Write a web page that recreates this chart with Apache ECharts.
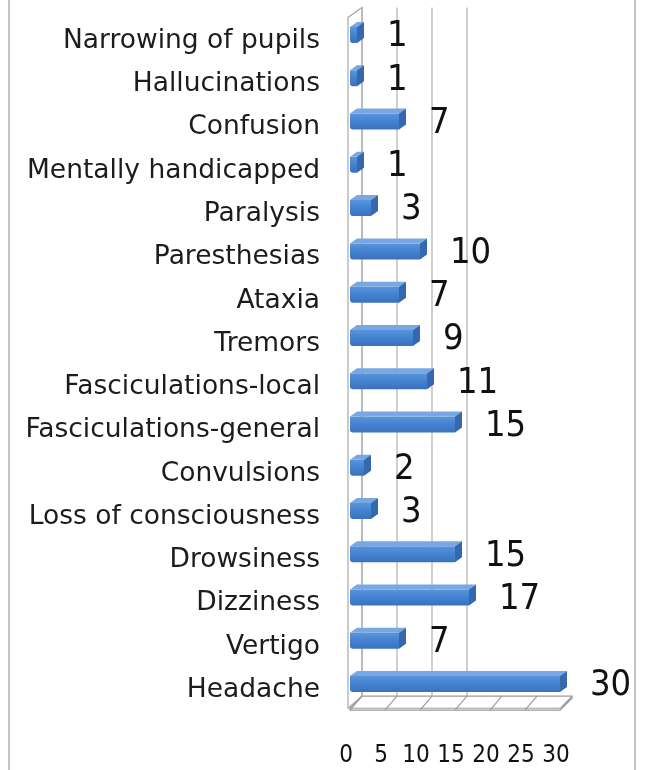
<!DOCTYPE html>
<html>
<head>
<meta charset="utf-8">
<script src="https://cdn.jsdelivr.net/npm/echarts@6/dist/echarts.min.js"></script>
<style>
html,body{margin:0;padding:0;background:#fff;}
#chart{width:646px;height:770px;}
</style>
</head>
<body>
<div id="chart"></div>
<script>
const categories = ["Narrowing of pupils","Hallucinations","Confusion","Mentally handicapped","Paralysis","Paresthesias","Ataxia","Tremors","Fasciculations-local","Fasciculations-general","Convulsions","Loss of consciousness","Drowsiness","Dizziness","Vertigo","Headache"];
const values = [1,1,7,1,3,10,7,9,11,15,2,3,15,17,7,30];
const xTicks = [0,5,10,15,20,25,30];
const wallGridTicks = [0,5,10,15];

const chart = echarts.init(document.getElementById('chart'));
const FONT = 'DejaVu Sans';
const DX = 7, DY = 5, FH = 16;      // bar depth and front height
const WX = 12, WY = 12;             // wall/floor depth
const BAR_SHIFT = -6;               // bars sit slightly above the label line

function renderFrame(params, api) {
  const cs = params.coordSys;
  const bottom = cs.y + cs.height;
  const floorFront = bottom - 3.5;
  const floorBack = floorFront - WY;
  const top = cs.y - 12;
  const children = [];
  const x0 = api.coord([0, 0])[0];
  const xMax = api.coord([xTicks[xTicks.length - 1], 0])[0];
  children.push({type:'polygon', shape:{points:[[x0-2, floorFront],[x0-2, top+10],[x0-2+WX+2, top],[x0+WX, floorBack]]},
    style:{fill:'rgba(255,255,255,0)', stroke:'#a8a8a8', lineWidth:1.2}, silent:true});
  wallGridTicks.forEach(t => {
    const x = api.coord([t, 0])[0] + WX;
    children.push({type:'line', shape:{x1:x, y1:top, x2:x, y2:floorBack},
      style:{stroke:'#b0b0b0', lineWidth:1.2}, silent:true});
  });
  children.push({type:'polygon', shape:{points:[[x0, floorFront+2],[xMax, floorFront+2],[xMax+WX, floorBack+2],[xMax+WX, floorBack],[x0+WX, floorBack],[x0, floorFront]]},
    style:{fill:'#ffffff', stroke:'#9a9a9a', lineWidth:1.2}, silent:true});
  children.push({type:'line', shape:{x1:x0, y1:floorFront, x2:xMax, y2:floorFront},
    style:{stroke:'#9a9a9a', lineWidth:1}, silent:true});
  children.push({type:'line', shape:{x1:xMax, y1:floorFront, x2:xMax+WX, y2:floorBack},
    style:{stroke:'#9a9a9a', lineWidth:1}, silent:true});
  xTicks.forEach(t => {
    const x = api.coord([t, 0])[0];
    children.push({type:'line', shape:{x1:x, y1:floorFront+2, x2:x+WX, y2:floorBack},
      style:{stroke:'#9a9a9a', lineWidth:1.1}, silent:true});
  });
  return {type:'group', children};
}

function renderBar(params, api) {
  const v = api.value(0);
  const c = api.value(1);
  const p0 = api.coord([0, c]);
  const p1 = api.coord([v, c]);
  const x0 = p0[0], x1 = p1[0], cy = p0[1] + BAR_SHIFT;
  const yt = cy - FH / 2, yb = cy + FH / 2;
  return {type:'group', children:[
    {type:'rect', shape:{x:x0, y:yt, width:x1 - x0, height:FH, r:[0,0,0,3]},
      style:{fill:new echarts.graphic.LinearGradient(0,0,0,1,[{offset:0,color:'#5a94dc'},{offset:0.5,color:'#4382d0'},{offset:1,color:'#3a72bd'}])}},
    {type:'polygon', shape:{points:[[x0, yt],[x0 + DX, yt - DY],[x1 + DX, yt - DY],[x1, yt]]},
      style:{fill:'#78a8e2'}},
    {type:'polygon', shape:{points:[[x1, yt],[x1 + DX, yt - DY],[x1 + DX, yb - DY],[x1, yb]]},
      style:{fill:'#3568ae'}},
    {type:'text', style:{x:x1 + 30, y:cy + 2, text:String(v), fill:'#111', font:'36px "DejaVu Sans Condensed", "DejaVu Sans"', textAlign:'left', textVerticalAlign:'middle'}}
  ]};
}

const option = {
  backgroundColor:'#ffffff',
  animation:false,
  grid:{left:350, right:86, top:19.4, bottom:58.3, outerBoundsMode:'none'},
  xAxis:{type:'value', min:0, max:30, interval:5,
    axisLine:{show:false}, axisTick:{show:false}, splitLine:{show:false},
    axisLabel:{fontFamily:'DejaVu Sans Condensed', fontSize:24, color:'#111', margin:32, padding:[0,8,0,0]}},
  yAxis:{type:'category', data:categories, inverse:true,
    axisLine:{show:false}, axisTick:{show:false}, splitLine:{show:false},
    axisLabel:{fontFamily:FONT, fontSize:26.5, color:'#1c1c1c', margin:30}},
  graphic:[
    {type:'line', shape:{x1:9, y1:-5, x2:9, y2:775}, style:{stroke:'#c4c4c4', lineWidth:2}, silent:true},
    {type:'line', shape:{x1:635, y1:-5, x2:635, y2:775}, style:{stroke:'#c4c4c4', lineWidth:2}, silent:true}
  ],
  series:[
    {type:'custom', renderItem:renderFrame, data:[[0,0]], z:1, silent:true, encode:{x:0, y:1}},
    {type:'custom', renderItem:renderBar, data:values.map((v,i)=>[v,i]), z:2, encode:{x:0, y:1}}
  ]
};
chart.setOption(option);
</script>
</body>
</html>
